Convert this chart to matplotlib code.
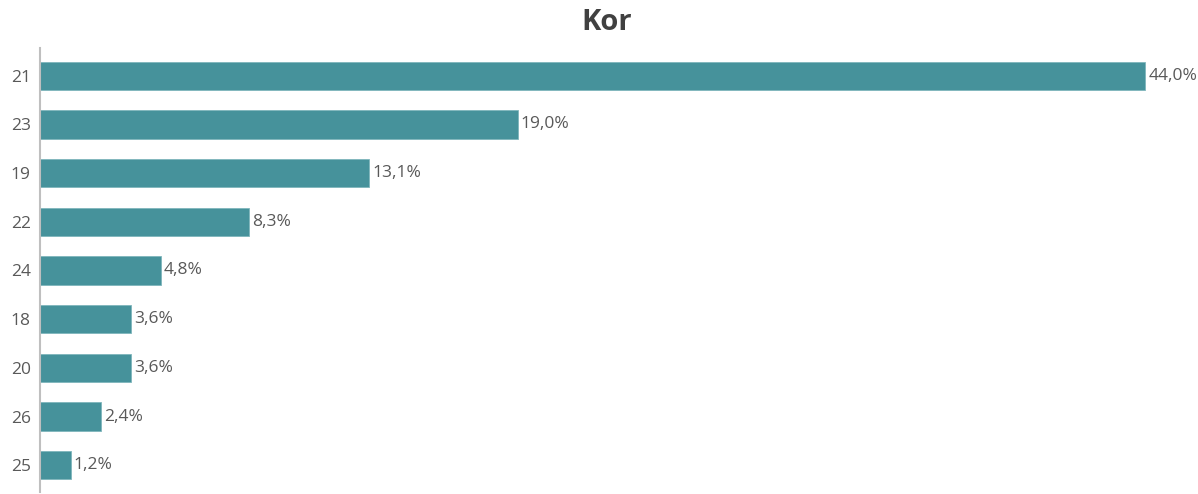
import matplotlib
matplotlib.use("Agg")
import matplotlib.pyplot as plt
from matplotlib import font_manager

names = {f.name for f in font_manager.fontManager.ttflist}
fam = ["Liberation Sans Narrow", "Open Sans", "DejaVu Sans"]
fam = [f for f in fam if f in names] or ["DejaVu Sans"]
plt.rcParams['font.family'] = fam

title = "Kor"
categories = ["21", "23", "19", "22", "24", "18", "20", "26", "25"]
values = [44.0, 19.0, 13.1, 8.3, 4.8, 3.6, 3.6, 2.4, 1.2]
labels = ["44,0%", "19,0%", "13,1%", "8,3%", "4,8%", "3,6%", "3,6%", "2,4%", "1,2%"]

W, H = 1198, 494
fig = plt.figure(figsize=(W / 100, H / 100), dpi=100)
ax = fig.add_axes([40.5 / W, 1 - 492 / H, (W - 40.5) / W, (492 - 48) / H])

pos = list(range(len(categories)))
ax.barh(pos, values, height=0.58, color="#46929B", edgecolor="#7FB6BC", linewidth=0.6)
for p, v, t in zip(pos, values, labels):
    ax.text(v + 0.12, p, t, va="center", ha="left", fontsize=12.5, color="#595959")

ax.set_xlim(0, 46.1)
ax.set_ylim(8.55, -0.57)
ax.set_yticks(pos)
ax.set_yticklabels(categories, fontsize=12.5, color="#595959")
ax.tick_params(axis="y", length=0, pad=7)
ax.set_xticks([])
for s in ["top", "right", "bottom"]:
    ax.spines[s].set_visible(False)
ax.spines["left"].set_color("#BFBFBF")
ax.spines["left"].set_linewidth(1.5)

fig.text(0.506, 1 - 23 / H, title, ha="center", va="center", fontsize=21, fontweight="bold", color="#404040")

fig.savefig("out.png", dpi=100)
